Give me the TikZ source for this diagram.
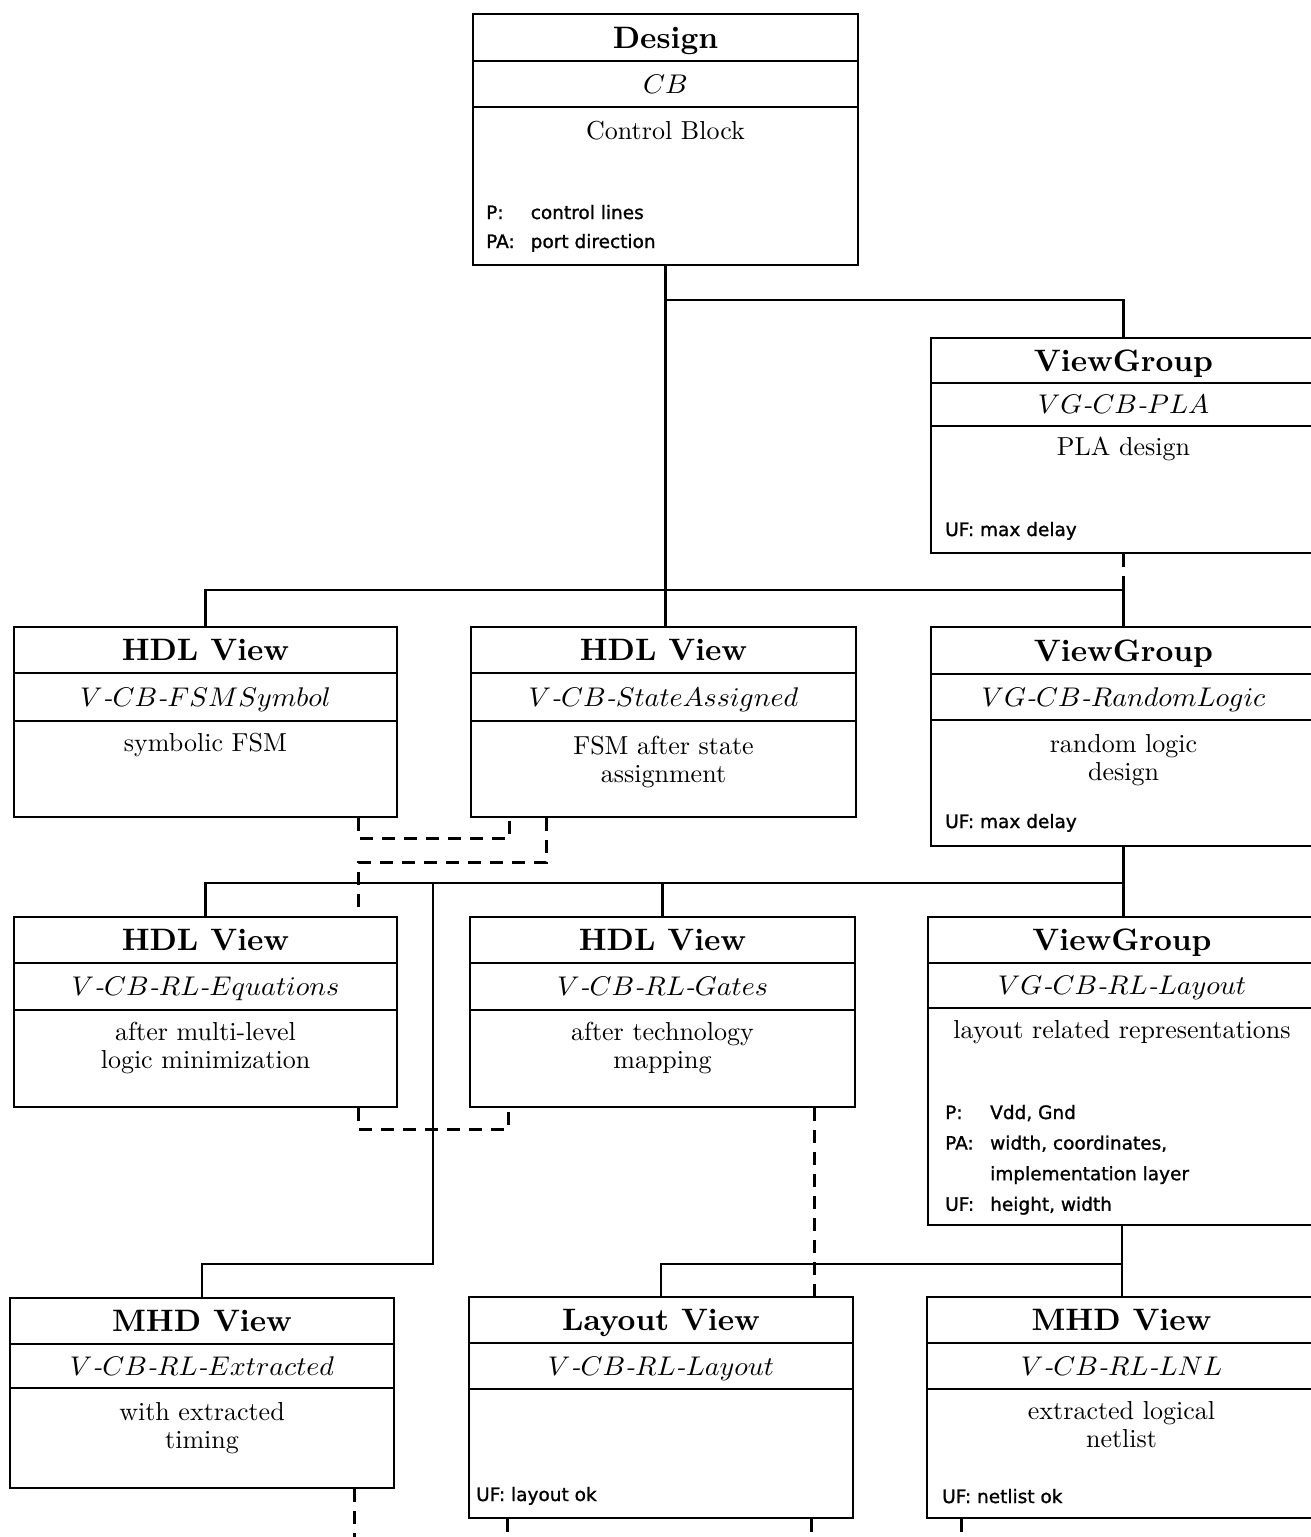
\documentclass[tikz,border=0pt]{standalone}
\usepackage{fontspec}
\newfontfamily\notefont{DejaVu Sans}[FakeBold=1.2]
\usetikzlibrary{fit}

% centred multi-line body text and two-column attribute lists
\newcommand\boxlines[1]{\begin{tabular}[t]{@{}c@{}}#1\end{tabular}}
\newcommand\notelines[1]{\begin{tabular}[t]{@{}l@{\hspace{16pt}}l@{}}#1\end{tabular}}
% identifiers are set in math italic, joined by hyphens
\newcommand\ident[1]{$#1$}
\newcommand\hy{\mbox{-}}

% #1 name, #2/#3 upper-left corner, #4/#5 lower-right corner,
% #6/#7 y of the two dividers, #8 kind, #9 identifier
\newcommand\classbox[9]{%
  \node[cbox, fit={(#2,#3) (#4,#5)}] (#1) {};
  \draw[divider] (#2,#6) -- (#4,#6);
  \draw[divider] (#2,#7) -- (#4,#7);
  \node[ttl] (#1-kind) at ({(#2+#4)/2},{(#3+#6)/2}) {#8};
  \node[sub] (#1-id) at ({(#2+#4)/2},{(#6+#7)/2}) {\ident{#9}};
}

\begin{document}
\begin{tikzpicture}[x=1pt, y=-1pt,
  cbox/.style={draw, rectangle, line width=2.7pt, inner sep=0pt},
  divider/.style={line width=2.1pt},
  link/.style={line width=2.4pt},
  dlink/.style={line width=2.4pt, dash pattern=on 13pt off 9pt},
  ttl/.style={inner sep=0pt, scale=3.1, text height=6.83pt, text depth=0pt,
    font=\fontsize{10}{12}\selectfont\bfseries},
  sub/.style={inner sep=0pt, xscale=2.8, yscale=2.7, text height=6.83pt, text depth=0pt,
    font=\fontsize{10}{12}\selectfont\itshape},
  body/.style={inner sep=0pt, anchor=base, scale=2.6,
    font=\fontsize{10}{10.9}\selectfont},
  note/.style={inner sep=0pt, anchor=base west,
    font=\notefont\fontsize{18.5}{30}\selectfont},
]
\fill[white] (0,0) rectangle (1311,1537);
\useasboundingbox (0,0) rectangle (1311,1537);
\clip (0,0) rectangle (1311,1537);

% ---- boxes ----
\classbox{design}{473}{14}{858}{265}{61}{107}{Design}{CB}
\classbox{pla}{931}{338}{1316}{553}{383}{426}{ViewGroup}{VG\hy CB\hy PLA}
\classbox{fsm}{14}{627}{397}{817}{673}{721}{HDL View}{V\hy CB\hy FSMSymbol}
\classbox{state}{471}{627}{856}{817}{673}{721}{HDL View}{V\hy CB\hy StateAssigned}
\classbox{rl}{931}{627}{1316}{846}{674}{720}{ViewGroup}{VG\hy CB\hy RandomLogic}
\classbox{eq}{14}{917}{397}{1107}{963}{1010}{HDL View}{V\hy CB\hy RL\hy Equations}
\classbox{gates}{470}{917}{855}{1107}{963}{1010}{HDL View}{V\hy CB\hy RL\hy Gates}
\classbox{rllay}{928}{917}{1316}{1225}{963}{1008}{ViewGroup}{VG\hy CB\hy RL\hy Layout}
\classbox{extr}{10}{1298}{394}{1488}{1344}{1388}{MHD View}{V\hy CB\hy RL\hy Extracted}
\classbox{lay}{469}{1297}{853}{1518}{1343}{1389}{Layout View}{V\hy CB\hy RL\hy Layout}
\classbox{lnl}{927}{1297}{1316}{1518}{1343}{1389}{MHD View}{V\hy CB\hy RL\hy LNL}

% ---- descriptions ----
\node[body] (design-txt) at (665.5,139) {Control Block};
\node[body] (pla-txt) at (1123.5,455) {PLA design};
\node[body] (fsm-txt) at (205.5,751) {symbolic FSM};
\node[body] (state-txt) at (663.5,754) {\boxlines{FSM after state\\assignment}};
\node[body] (rl-txt) at (1123.5,752) {\boxlines{random logic\\design}};
\node[body] (eq-txt) at (205.5,1040) {\boxlines{after multi-level\\logic minimization}};
\node[body] (gates-txt) at (662.5,1040) {\boxlines{after technology\\mapping}};
\node[body] (rllay-txt) at (1122,1038) {layout related representations};
\node[body] (extr-txt) at (202,1420) {\boxlines{with extracted\\timing}};
\node[body] (lnl-txt) at (1121.5,1419) {\boxlines{extracted logical\\netlist}};

% ---- attributes ----
\node[note, font=\notefont\fontsize{18.5}{29}\selectfont] (design-att) at (486,219)
  {\notelines{P: & control lines\\ PA: & port direction}};
\node[note] (pla-att) at (945,536) {UF: max delay};
\node[note] (rl-att) at (945,828) {UF: max delay};
\node[note, font=\notefont\fontsize{18.5}{30.6}\selectfont] (rllay-att) at (945,1119)
  {\notelines{P: & Vdd, Gnd\\ PA: & width, coordinates,\\ & implementation layer\\ UF: & height, width}};
\node[note] (lay-att) at (476,1501) {UF: layout ok};
\node[note] (lnl-att) at (942,1503) {UF: netlist ok};

% ---- hierarchy links ----
\coordinate (split) at (0,300);
\coordinate (bus1) at (0,590);
\coordinate (bus2) at (0,883);
\coordinate (bus3) at (0,1264);
\coordinate (tap) at (433,883);
\coordinate (edge) at (0,1545);

\draw[link] (design.south) -- (design.south |- state.north);
\draw[link] (design.south |- split) -| (pla.north);
\draw[link] (fsm.north) |- (rl.north |- bus1) -- (rl.north);
\draw[dlink] (pla.south) -- (pla.south |- bus1);

\draw[dlink] ([xshift=-40pt]fsm.south east) -- ++(0,20) -| ([xshift=40pt]state.south west);
\draw[dlink] ([xshift=77pt]state.south west) -- ++(0,44) -| ([xshift=-40pt]eq.north east);

\draw[link] (eq.north) |- (rl.south |- bus2);
\draw[link] (rl.south) -- (rl.south |- rllay.north);
\draw[link] (gates.north) -- (gates.north |- bus2);
\draw[link] (tap) |- (extr.north |- bus3) -- (extr.north);

\draw[dlink] ([xshift=-40pt]eq.south east) -- ++(0,21) -| ([xshift=40pt]gates.south west);
\path ([xshift=-42pt]gates.south east) coordinate (gd);
\draw[dlink] (gd) -- (gd |- lay.north);

\draw[link] (rllay.south) -- (rllay.south |- lnl.north);
\draw[link] (rllay.south |- bus3) -| (lay.north);

% ---- links leaving the lower edge ----
\path ([xshift=-41pt]extr.south east) coordinate (o1)
      ([xshift=40pt]lay.south west) coordinate (o2)
      ([xshift=-43pt]lay.south east) coordinate (o3)
      ([xshift=36pt]lnl.south west) coordinate (o4);
\draw[dlink] (o1) -- (o1 |- edge);
\draw[dlink] (o2) -- (o2 |- edge);
\draw[dlink] (o3) -- (o3 |- edge);
\draw[dlink] (o4) -- (o4 |- edge);
\end{tikzpicture}
\end{document}
